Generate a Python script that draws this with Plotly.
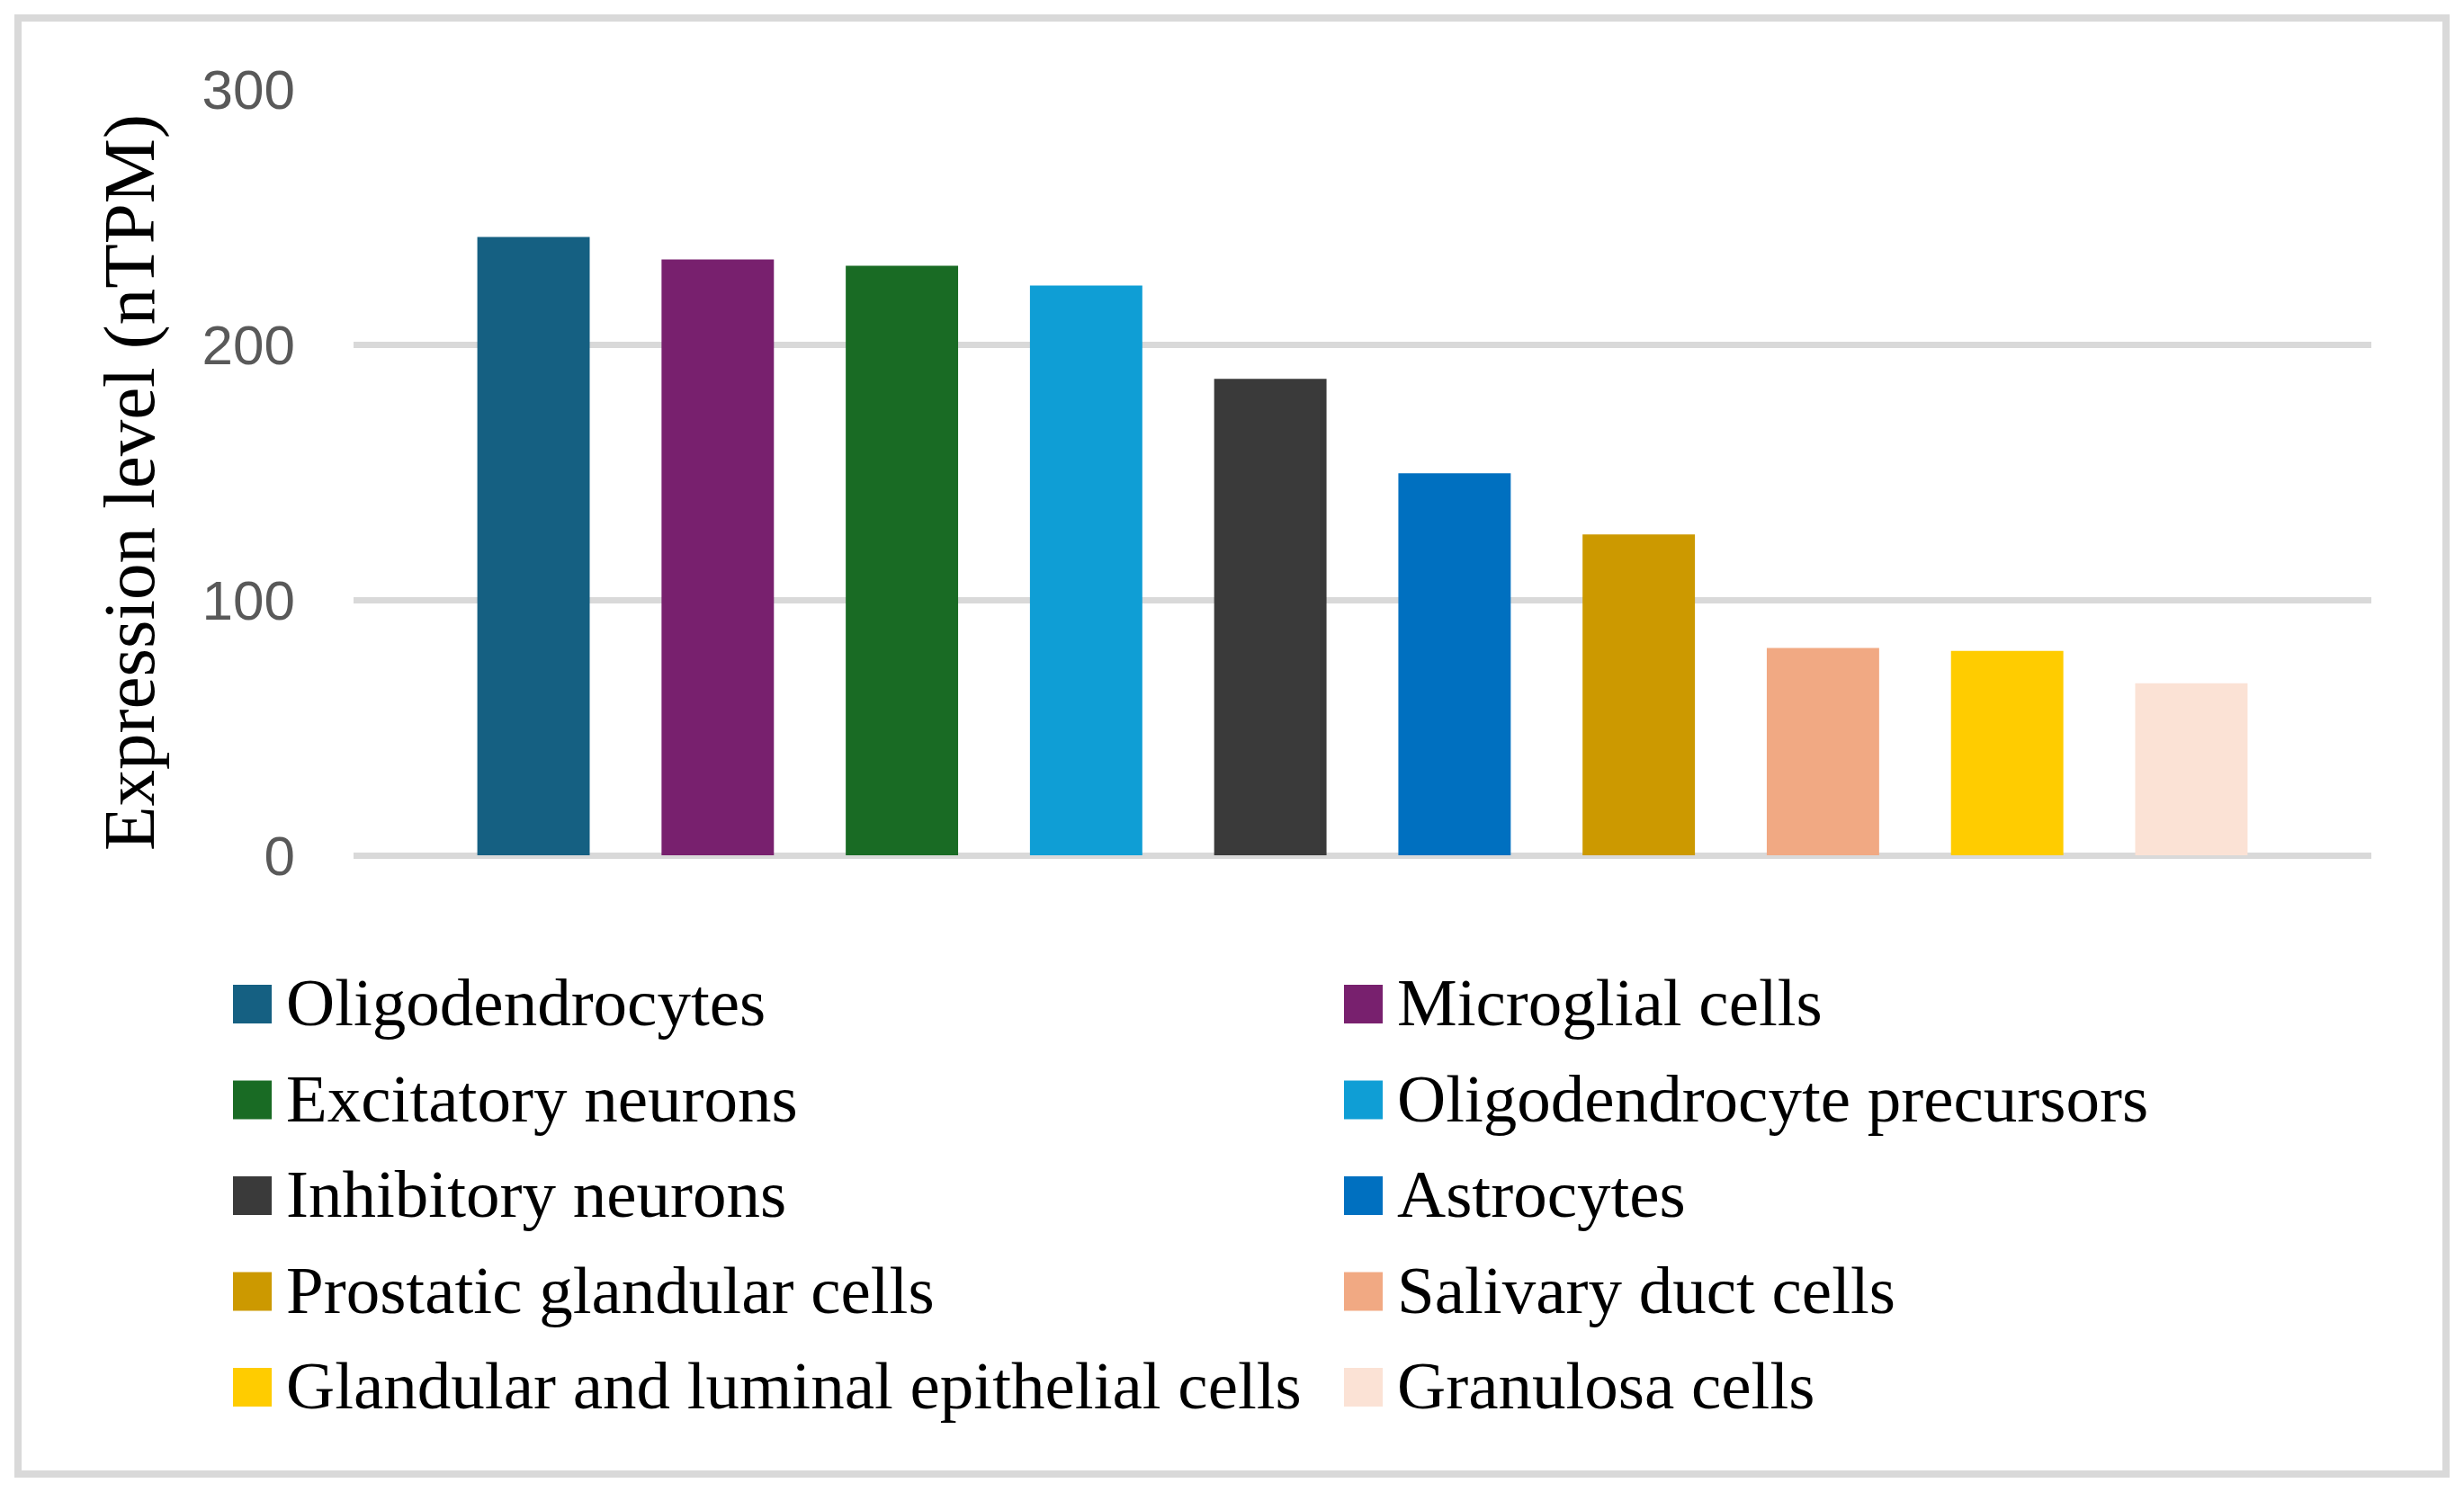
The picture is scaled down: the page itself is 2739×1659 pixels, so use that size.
import plotly.graph_objects as go

# cell types, expression level (nTPM) and bar colours
cells = ['Oligodendrocytes', 'Microglial cells', 'Excitatory neurons',
         'Oligodendrocyte precursors', 'Inhibitory neurons', 'Astrocytes',
         'Prostatic glandular cells', 'Salivary duct cells',
         'Glandular and luminal epithelial cells', 'Granulosa cells']
ntpm = [242.1, 233.3, 230.8, 223.1, 186.5, 149.6, 125.6, 81.2, 80.0, 67.3]
colors = ['#156082', '#78206E', '#196B24', '#0F9ED5', '#3A3A3A',
          '#0070C0', '#CC9900', '#F1A983', '#FFCC00', '#FBE2D5']
yticks = [0, 100, 200, 300]

# the page body adds an 8 px margin, so the figure is drawn 8 px in from the corner
OFF = 8
W, H = 2739 - 2 * OFF, 1659 - 2 * OFF
L, T = 393 - OFF, 99 - OFF
R, B = W - (2636 - OFF), H - (951 - OFF)
serif = 'Liberation Serif, Times New Roman, serif'
sans = 'Liberation Sans, Arial, sans-serif'


def px(x):
    # page pixel -> paper x
    return (x - OFF - L) / (W - L - R)


def py(y):
    # page pixel (from top) -> paper y
    return (H - B - (y - OFF)) / (H - T - B)


fig = go.Figure(go.Bar(x=cells, y=ntpm, marker=dict(color=colors, line=dict(width=0)),
                       width=0.61, showlegend=False))

shapes = [dict(type='rect', xref='paper', yref='paper', layer='below',
               x0=px(20), x1=px(2719), y0=py(1639), y1=py(20),
               line=dict(color='#d9d9d9', width=8))]
annotations = [dict(text='Expression level (nTPM)', textangle=-90, showarrow=False,
                    xref='paper', yref='paper', x=px(144), y=py(537),
                    xanchor='center', yanchor='middle',
                    font=dict(family=serif, size=81, color='black'))]

# two-column legend under the plot
sw = 43
for i, (name, col) in enumerate(zip(cells, colors)):
    r, c = divmod(i, 2)
    sx = [259, 1494][c]
    sy = 1095 + 106.5 * r
    shapes.append(dict(type='rect', xref='paper', yref='paper',
                       x0=px(sx), x1=px(sx + sw), y0=py(sy + sw), y1=py(sy),
                       fillcolor=col, line=dict(width=0)))
    annotations.append(dict(text=name, showarrow=False, xref='paper', yref='paper',
                            x=px(sx + sw + 14), y=py(sy + sw / 2 - 2),
                            xanchor='left', yanchor='middle',
                            font=dict(family=serif, size=75, color='black')))

fig.update_layout(
    width=W, height=H,
    margin=dict(l=L, r=R, t=T, b=B, pad=0),
    paper_bgcolor='white', plot_bgcolor='white',
    xaxis=dict(range=[-0.977, 9.977], showticklabels=False, showgrid=False,
               zeroline=False, showline=False, ticks=''),
    yaxis=dict(range=[0, 300], tickvals=yticks, showgrid=True, gridcolor='#d9d9d9',
               gridwidth=7, zeroline=True, zerolinecolor='#d9d9d9', zerolinewidth=7,
               showline=False, ticks='', ticklabelstandoff=64,
               tickfont=dict(family=sans, size=62, color='#595959')),
    shapes=shapes,
    annotations=annotations,
)

fig.write_html("out.html")
